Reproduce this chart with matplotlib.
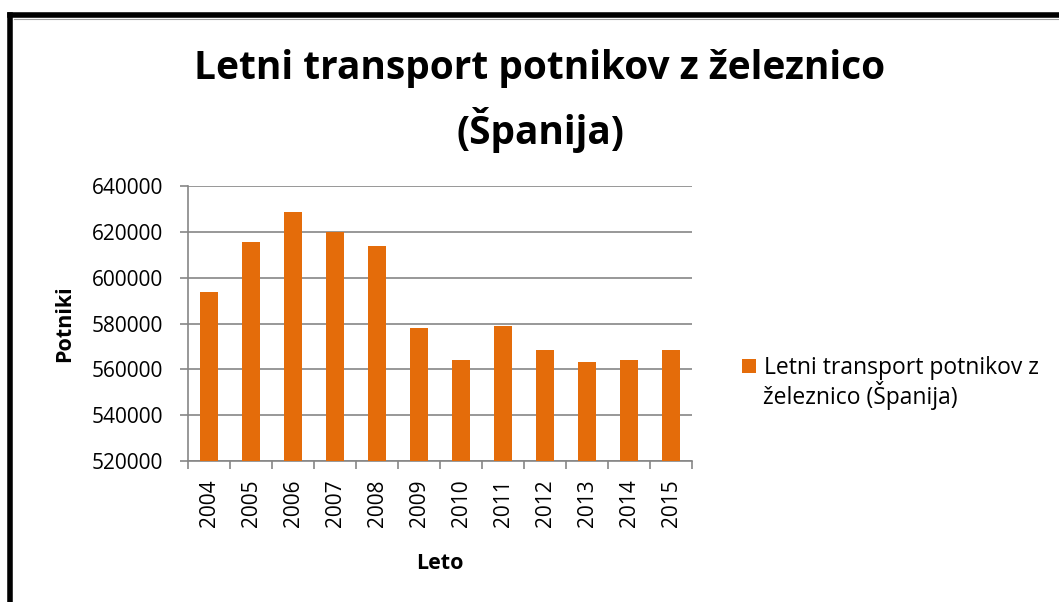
import matplotlib
matplotlib.use('Agg')
import matplotlib.pyplot as plt
from matplotlib.lines import Line2D
from matplotlib.ticker import FixedLocator

plt.rcParams['font.family'] = ['Open Sans', 'DejaVu Sans']

# Data
years = ['2004', '2005', '2006', '2007', '2008', '2009',
         '2010', '2011', '2012', '2013', '2014', '2015']
passengers = [593600, 615700, 628800, 619800, 613800, 578000,
              563900, 578900, 568300, 563100, 563900, 568300]
yticks = [520000, 540000, 560000, 580000, 600000, 620000, 640000]
series_name = ['Letni transport potnikov z', 'železnico (Španija)']

bar_color = '#E46C0A'
grid_color = '#868686'

fig = plt.figure(figsize=(10.59, 6.02), dpi=100)
ax = fig.add_axes([188 / 1059, 1 - 461 / 602, (692 - 188) / 1059, (461 - 186) / 602])

x = list(range(len(years)))
bars = ax.bar(x, passengers, width=0.42, color=bar_color, zorder=3,
              label=series_name[0])

ax.set_xlim(-0.5, len(years) - 0.5)
ax.set_ylim(520000, 640000)
ax.set_yticks(yticks)
ax.set_yticklabels([str(v) for v in yticks], fontsize=15)
ax.set_xticks(x)
ax.set_xticklabels(years, rotation=90, fontsize=15)
ax.xaxis.set_minor_locator(FixedLocator([i - 0.5 for i in range(len(years) + 1)]))
ax.tick_params(axis='x', which='major', length=0, pad=13)
ax.tick_params(axis='x', which='minor', length=6, color=grid_color, width=1.2)
ax.tick_params(axis='y', length=6, color=grid_color, width=1.2, pad=12)

ax.grid(axis='y', color=grid_color, linewidth=1.2, zorder=0)
for side in ['top', 'right']:
    ax.spines[side].set_visible(False)
for side in ['left', 'bottom']:
    ax.spines[side].set_color(grid_color)
    ax.spines[side].set_linewidth(1.2)

ax.set_ylabel('Potniki', fontsize=15.5, fontweight='bold', labelpad=12)
ax.set_xlabel('Leto', fontsize=15.5, fontweight='bold', labelpad=19)

# Title
fig.text(540 / 1059, 1 - 68 / 602, 'Letni transport potnikov z železnico',
         ha='center', va='center', fontsize=28, fontweight='bold')
fig.text(540 / 1059, 1 - 130 / 602, '(Španija)',
         ha='center', va='center', fontsize=28, fontweight='bold')

# Legend (first line with the marker, wrapped second line below it)
leg = fig.legend(handles=[bars], loc='center left',
                 bbox_to_anchor=(742 / 1059, 1 - 368 / 602),
                 frameon=False, fontsize=16.5, handlelength=0.6, handleheight=0.6,
                 handletextpad=0.35, borderpad=0, borderaxespad=0)
fig.text(763 / 1059, 1 - 396 / 602, series_name[1],
         ha='left', va='center', fontsize=16.5)

# Frame lines (thick black top and left border)
fig.add_artist(Line2D([10 / 1059, 1], [1 - 15 / 602, 1 - 15 / 602],
                      transform=fig.transFigure, color='black', linewidth=4))
fig.add_artist(Line2D([10 / 1059, 10 / 1059], [1 - 15 / 602, 0],
                      transform=fig.transFigure, color='black', linewidth=4))
fig.add_artist(Line2D([14 / 1059, 1], [1 - 19 / 602, 1 - 19 / 602],
                      transform=fig.transFigure, color='#A0A0A0', linewidth=0.8))

fig.savefig('out.png', dpi=100)
